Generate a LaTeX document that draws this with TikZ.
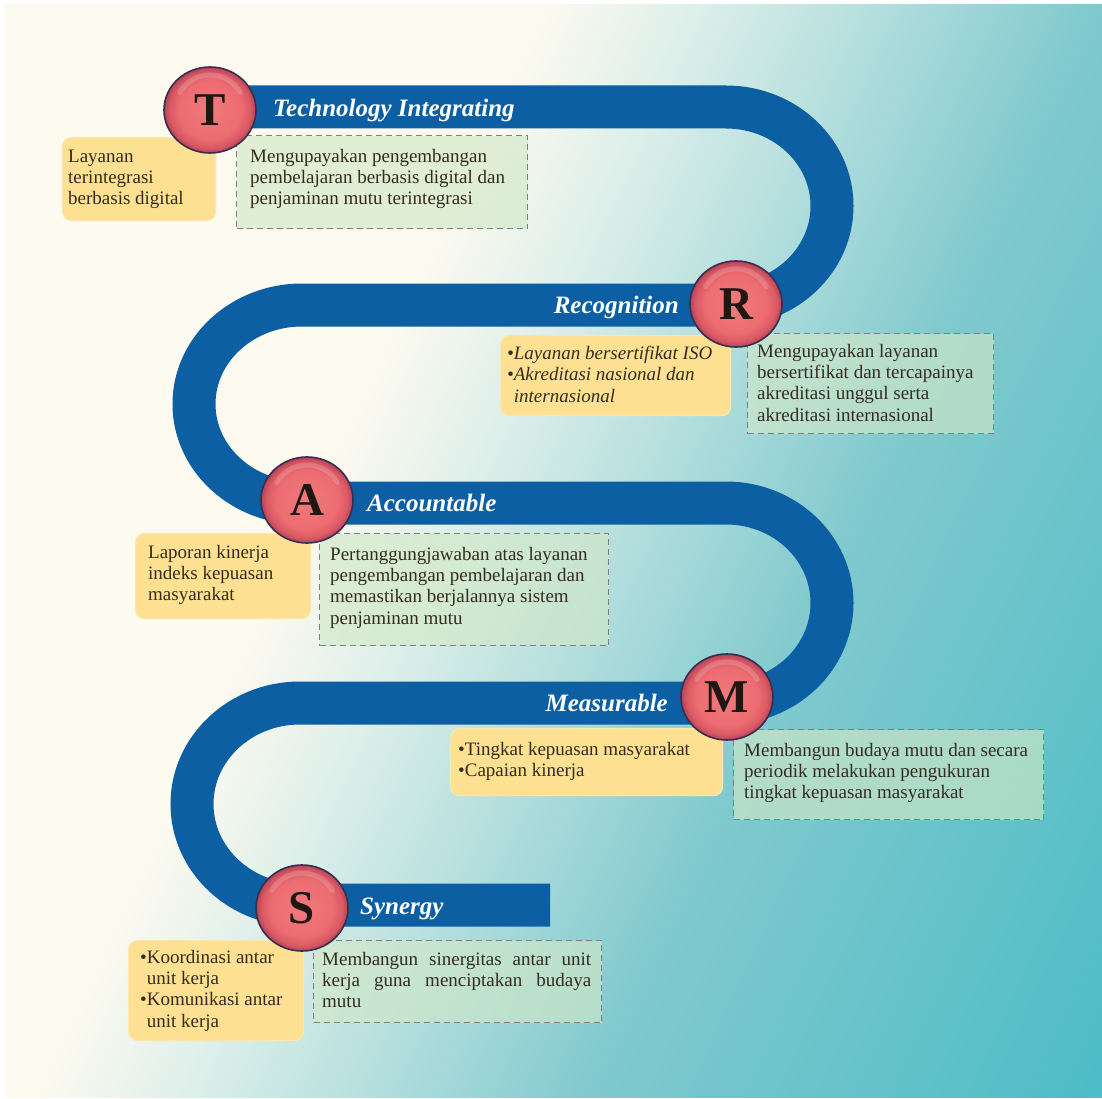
\documentclass[tikz,border=0pt]{standalone}
\usepackage{fontspec}
\setmainfont{Liberation Serif}
\usetikzlibrary{shapes.geometric}

\definecolor{bgA}{HTML}{FDFAF0}
\definecolor{bgB}{HTML}{DAEEE9}
\definecolor{bgC}{HTML}{80C9CE}
\definecolor{bgD}{HTML}{4BBCC6}
\definecolor{bandblue}{HTML}{0C5FA3}
\definecolor{ylw}{HTML}{FDE091}
\definecolor{ylwedge}{HTML}{FBE6AE}
\definecolor{grn}{HTML}{D1E8C7}
\definecolor{dashgray}{HTML}{7E7F7E}
\definecolor{ink}{HTML}{342C20}
\definecolor{rA}{HTML}{F07A7D}
\definecolor{rB}{HTML}{EC6C71}
\definecolor{rC}{HTML}{DA5963}
\definecolor{rD}{HTML}{B5435A}
\definecolor{rim}{HTML}{3A2E4E}
\definecolor{letterink}{HTML}{201612}

% soft diagonal backdrop: cream to teal
\pgfdeclarehorizontalshading{bgshade}{100bp}{color(0bp)=(bgA); color(39bp)=(bgA); color(46bp)=(bgB); color(62bp)=(bgC); color(84bp)=(bgD); color(100bp)=(bgD)}
% glossy red disc
\pgfdeclareradialshading{discshade}{\pgfpointorigin}{color(0bp)=(rA); color(17bp)=(rB); color(22bp)=(rC); color(25bp)=(rD); color(50bp)=(rD)}

\newcommand\mybodystrut{\rule{0pt}{13pt}}

\tikzset{
  band/.style={draw=bandblue, line width=43pt},
  ybox/.style={rectangle, rounded corners=9pt, fill=ylw, draw=ylwedge, line width=1.2pt, anchor=north west, inner sep=0pt},
  gbox/.style={rectangle, fill=grn, fill opacity=0.64, draw=dashgray, draw opacity=1, dash pattern=on 6pt off 4pt, line width=1.3pt, anchor=north west, inner sep=0pt},
  bodytext/.style={anchor=north west, inner sep=0pt, align=left, text=ink, font=\fontsize{19}{21.3}\selectfont},
  letterdisc/.style={ellipse, minimum width=92pt, minimum height=86pt, inner sep=0pt, shading=discshade, draw=rim, line width=1.6pt, text=letterink, font=\fontsize{47}{47}\selectfont\bfseries,
    path picture={\draw[white, opacity=.16, line width=5pt, line cap=round] ([shift={(-30.3,-17.5)}]path picture bounding box.center) arc[start angle=-150, end angle=-30, x radius=35, y radius=35];}},
  headline/.style={text=white, inner sep=0pt, font=\fontsize{25}{25}\selectfont\bfseries\itshape},
}

\begin{document}
\begin{tikzpicture}[x=1pt, y=-1pt]
\useasboundingbox (0,0) rectangle (1102,1099);
\fill[white] (0,0) rectangle (1102,1099);
\shade[shading=bgshade, shading angle=-25] (5,5) rectangle (1102,1097);

% winding road
\coordinate (start) at (210,107);
\coordinate (finish) at (550,905);
\draw[band] (start) -- (726,107)
  arc[start angle=-90, end angle=90, x radius=106, y radius=99] -- (302,305)
  arc[start angle=-90, end angle=-270, x radius=108, y radius=99] -- (726,503)
  arc[start angle=-90, end angle=90, x radius=106, y radius=100] -- (300,703)
  arc[start angle=-90, end angle=-270, x radius=108, y radius=101] -- (finish);

% T
\node[ybox, minimum width=153pt, minimum height=83pt] (ty) at (62,137) {};
\node[gbox, minimum width=291pt, minimum height=93pt] (tg) at (236,135) {};
\node[bodytext] (tyt) at (68,149) {\mybodystrut Layanan\\terintegrasi\\berbasis digital};
\node[bodytext] (tgt) at (250,149) {\mybodystrut Mengupayakan pengembangan\\pembelajaran berbasis digital dan\\penjaminan mutu terintegrasi};

% R
\node[ybox, minimum width=230pt, minimum height=80pt] (ry) at (500,335) {};
\node[gbox, minimum width=246pt, minimum height=100pt] (rg) at (747,333) {};
\node[bodytext, font=\fontsize{19}{21.3}\selectfont\itshape] (ryt) at (507,346) {\mybodystrut\textbullet Layanan bersertifikat ISO\\\textbullet Akreditasi nasional dan\\\phantom{\textbullet}internasional};
\node[bodytext] (rgt) at (757,344) {\mybodystrut Mengupayakan layanan\\bersertifikat dan tercapainya\\akreditasi unggul serta\\akreditasi internasional};

% A
\node[ybox, minimum width=175pt, minimum height=85pt] (ay) at (135,533) {};
\node[gbox, minimum width=289pt, minimum height=112pt] (ag) at (319,533) {};
\node[bodytext] (ayt) at (148,545) {\mybodystrut Laporan kinerja\\indeks kepuasan\\masyarakat};
\node[bodytext] (agt) at (330,547) {\mybodystrut Pertanggungjawaban atas layanan\\pengembangan pembelajaran dan\\memastikan berjalannya sistem\\penjaminan mutu};

% M
\node[ybox, minimum width=272pt, minimum height=67pt] (my) at (450,728) {};
\node[gbox, minimum width=310pt, minimum height=90pt] (mg) at (733,729) {};
\node[bodytext] (myt) at (458,742) {\mybodystrut\textbullet Tingkat kepuasan masyarakat\\\textbullet Capaian kinerja};
\node[bodytext] (mgt) at (744,743) {\mybodystrut Membangun budaya mutu dan secara\\periodik melakukan pengukuran\\tingkat kepuasan masyarakat};

% S
\node[ybox, minimum width=175pt, minimum height=100pt] (sy) at (128,940) {};
\node[gbox, minimum width=288pt, minimum height=82pt] (sg) at (313,940) {};
\node[bodytext] (syt) at (140,950) {\mybodystrut\textbullet Koordinasi antar\\\phantom{\textbullet}unit kerja\\\textbullet Komunikasi antar\\\phantom{\textbullet}unit kerja};
\node[bodytext] (sgt) at (322,952) {\mybodystrut\makebox[269pt][s]{Membangun sinergitas antar unit}\\\makebox[269pt][s]{kerja guna menciptakan budaya}\\mutu};

% letter discs
\node[letterdisc] (T) at (210,110) {T};
\node[letterdisc] (R) at (736,304) {R};
\node[letterdisc] (A) at (307,500) {A};
\node[letterdisc] (M) at (727,697) {M};
\node[letterdisc] (S) at (302,908) {S};

% headings on the road
\node[headline, anchor=base west] (tT) at (273,117) {Technology Integrating};
\node[headline, anchor=base east] (tR) at (679,313) {Recognition};
\node[headline, anchor=base west] (tA) at (367,511) {Accountable};
\node[headline, anchor=base east] (tM) at (668,711) {Measurable};
\node[headline, anchor=base west] (tS) at (360,914) {Synergy};
\end{tikzpicture}
\end{document}
